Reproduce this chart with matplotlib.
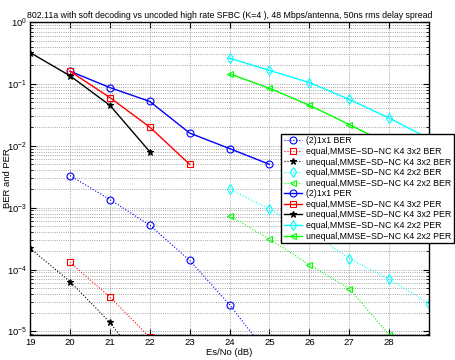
import matplotlib
matplotlib.use("Agg")
import matplotlib.pyplot as plt
from matplotlib.lines import Line2D
from matplotlib.ticker import LogLocator, NullFormatter, FixedLocator

plt.rcParams['font.family'] = ['Liberation Sans', 'DejaVu Sans']
plt.rcParams['mathtext.fontset'] = 'custom'
plt.rcParams['mathtext.rm'] = 'Liberation Sans'

# ---- data ----
labels = ["(2)1x1", "equal,MMSE\u2212SD\u2212NC K4 3x2", "unequal,MMSE\u2212SD\u2212NC K4 3x2",
          "equal,MMSE\u2212SD\u2212NC K4 2x2", "unequal,MMSE\u2212SD\u2212NC K4 2x2"]
colors = ["#0000ff", "#ff0000", "#000000", "#00ffff", "#00ff00"]
markers = ["o", "s", "*", "d", "<"]

# BER curves (dotted)
ber_x = [
    [20, 21, 22, 23, 24, 25],
    [20, 21, 22],
    [19, 20, 21, 22],
    [24, 25, 26, 27, 28, 29],
    [24, 25, 26, 27, 28, 29],
]
ber_y = [
    [3.3e-3, 1.35e-3, 5.2e-4, 1.4e-4, 2.7e-5, 4e-6],
    [1.3e-4, 3.6e-5, 8e-6],
    [2.2e-4, 6.4e-5, 1.4e-5, 2e-6],
    [2.0e-3, 9.4e-4, 4.2e-4, 1.5e-4, 7e-5, 2.8e-5],
    [7.4e-4, 3.1e-4, 1.2e-4, 4.9e-5, 8.8e-6, 1.5e-6],
]

# PER curves (solid)
per_x = [
    [20, 21, 22, 23, 24, 25],
    [20, 21, 22, 23],
    [19, 20, 21, 22],
    [24, 25, 26, 27, 28, 29],
    [24, 25, 26, 27, 28, 29],
]
per_y = [
    [0.16, 0.087, 0.052, 0.016, 0.009, 0.005],
    [0.16, 0.06, 0.02, 0.005],
    [0.32, 0.135, 0.045, 0.008],
    [0.26, 0.165, 0.105, 0.056, 0.028, 0.013],
    [0.145, 0.085, 0.045, 0.022, 0.0105, 0.005],
]

fig = plt.figure(figsize=(4.56, 3.6), dpi=100)
ax = fig.add_axes([0.066, 0.069, 0.875, 0.870])

def face(m, c):
    return c if m == "*" else "none"

for i in range(5):
    ax.semilogy(ber_x[i], ber_y[i], linestyle=":", lw=0.8, color=colors[i],
                marker=markers[i], ms=5, mfc=face(markers[i], colors[i]),
                mec=colors[i], mew=0.8)
for i in range(5):
    ax.semilogy(per_x[i], per_y[i], linestyle="-", lw=1.0, color=colors[i],
                marker=markers[i], ms=5, mfc=face(markers[i], colors[i]),
                mec=colors[i], mew=0.8)

ax.set_xlim(19, 29)
ax.set_ylim(8.7e-6, 1)
ax.xaxis.set_major_locator(FixedLocator(range(19, 29)))
ax.yaxis.set_major_locator(LogLocator(base=10, numticks=10))
ax.yaxis.set_minor_locator(LogLocator(base=10, subs=range(2, 10), numticks=10))
ax.yaxis.set_minor_formatter(NullFormatter())
ax.tick_params(which="both", direction="in", top=True, right=True, labelsize=6.8, pad=2)
ax.tick_params(which="major", length=4)
ax.tick_params(which="minor", length=2)
ax.grid(True, which="major", linestyle=":", color="#888888", lw=0.6)
ax.grid(True, which="minor", axis="y", linestyle=":", color="#888888", lw=0.6)
for s in ax.spines.values():
    s.set_linewidth(1.0)

ax.set_title("802.11a with soft decoding vs uncoded high rate SFBC (K=4 ), 48 Mbps/antenna, 50ns rms delay spread",
             fontsize=6.3, pad=3)
ax.set_xlabel("Es/No (dB)", fontsize=6.8, labelpad=1)
ax.set_ylabel("BER and PER", fontsize=6.8)
ax.yaxis.set_label_coords(-0.046, 0.5)

handles = []
names = []
for i in range(5):
    handles.append(Line2D([], [], linestyle=":", lw=0.8, color=colors[i], marker=markers[i],
                          ms=5, mfc=face(markers[i], colors[i]), mec=colors[i], mew=0.8))
    names.append(labels[i] + " BER")
for i in range(5):
    handles.append(Line2D([], [], linestyle="-", lw=1.0, color=colors[i], marker=markers[i],
                          ms=5, mfc=face(markers[i], colors[i]), mec=colors[i], mew=0.8))
    names.append(labels[i] + " PER")

leg = ax.legend(handles, names, loc="upper left", bbox_to_anchor=(0.63, 0.643),
                borderaxespad=0, fontsize=6.3, frameon=True, fancybox=False,
                framealpha=1, edgecolor="black", handlelength=2.0, handletextpad=0.5,
                labelspacing=0.18, borderpad=0.3)
leg.get_frame().set_linewidth(1.0)

fig.savefig("out.png", dpi=100)
